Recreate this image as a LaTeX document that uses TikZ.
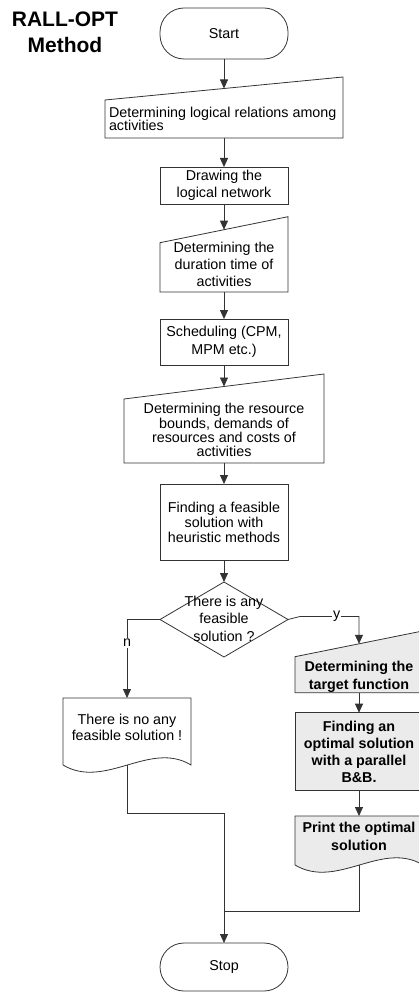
\documentclass[tikz,border=0pt]{standalone}
\usepackage{fontspec}
\setmainfont{Liberation Sans}
\usetikzlibrary{arrows.meta,shapes.geometric,calc}
\newcommand\myfs[1]{\fontsize{14.3}{#1}\selectfont\lineskiplimit=-50pt\relax}
\newcommand\titlefs{\fontsize{21}{26}\selectfont\bfseries\lineskiplimit=-50pt\relax}
\begin{document}
\begin{tikzpicture}[x=1pt,y=-1pt,line width=0.8pt,
  every node/.style={inner sep=0pt,outer sep=0pt,text=black},
  lc/.style={draw=black!80},
  arr/.style={draw=black!80,-{Triangle[width=8pt,length=9pt]}},
  frame/.style={rectangle,draw=none,minimum width=128pt},
  procbox/.style={rectangle,draw=black!80,minimum width=128pt,align=center},
  grey/.style={fill=black!8},
  term/.style={rectangle,draw=black!80,rounded corners=24pt,minimum width=128pt,font=\myfs{17}},
  lbl/.style={fill=white,inner sep=1pt,font=\myfs{17}},
  txt/.style={align=center},
]
\useasboundingbox (0,0) rectangle (419,992);

% title
\node[font=\titlefs,align=center] (title) at (65,32.5) {RALL-OPT\\Method};

% terminals
\node[term,minimum height=51pt] (start) at (224,33.5) {Start};
\node[term,minimum height=48pt] (stop) at (224,967) {Stop};

% manual input 1
\node[frame,minimum width=238pt,minimum height=61pt] (mi1) at (224,107.5) {};
\draw[lc] ([yshift=-23pt]mi1.north west) -- (mi1.north east) -- (mi1.south east) -- (mi1.south west) -- cycle;
\node[anchor=west,align=left,font=\myfs{12.5}] (mi1t) at (109,118.7) {Determining logical relations among\\activities};

% drawing box
\node[procbox,minimum height=37pt,font=\myfs{17}] (drawbox) at (224,185.5) {Drawing the\\logical network};

% manual input 2
\node[frame,minimum width=128pt,minimum height=75.3pt] (mi2) at (224,254.35) {};
\draw[lc] ([yshift=-26pt]mi2.north west) -- (mi2.north east) -- (mi2.south east) -- (mi2.south west) -- cycle;
\node[txt,font=\myfs{17}] (mi2t) at (224,264.8) {Determining the\\duration time of\\activities};

% scheduling
\node[procbox,minimum height=46pt,font=\myfs{18}] (sched) at (224,342) {Scheduling (CPM,\\MPM etc.)};

% manual input 3
\node[frame,minimum width=200pt,minimum height=89pt] (mi3) at (224,418.5) {};
\draw[lc] ([yshift=-25pt]mi3.north west) -- (mi3.north east) -- (mi3.south east) -- (mi3.south west) -- cycle;
\node[txt,font=\myfs{14.3}] (mi3t) at (224,430.3) {Determining the resource\\bounds, demands of\\resources and costs of\\activities};

% feasible box
\node[procbox,minimum height=76pt,font=\myfs{15}] (feas) at (224,522) {Finding a feasible\\solution with\\heuristic methods};

% decision
\node[diamond,draw=black!80,minimum width=128pt,minimum height=75pt] (dec) at (224,619.5) {};
\node[txt,font=\myfs{17.5}] (dect) at (224,618.8) {There is any\\feasible\\solution ?};

% no solution document
\node[frame,minimum height=67pt] (nodoc) at (127,731.5) {};
\draw[lc] (nodoc.south west) -- (nodoc.north west) -- (nodoc.north east) -- (nodoc.south east)
  .. controls +(-41,-25) and +(42,25) .. (nodoc.south west);
\node[txt,font=\myfs{16}] (nodoct) at (127,727) {There is no any\\feasible solution !};

% manual input 4 (grey)
\node[frame,minimum width=128pt,minimum height=61.8pt] (mi4) at (359,661.8) {};
\draw[lc,grey] ([yshift=-25.8pt]mi4.north west) -- (mi4.north east) -- (mi4.south east) -- (mi4.south west) -- cycle;
\node[txt,font=\myfs{18}\bfseries] (mi4t) at (359,676.5) {Determining the\\target function};

% optimal solution box (grey)
\node[procbox,grey,minimum height=78pt,font=\myfs{17.2}\bfseries] (opt) at (359,751.7) {Finding an\\optimal solution\\with a parallel\\B\&B.};

% print document (grey)
\node[frame,minimum height=49pt] (pdoc) at (359,840.5) {};
\draw[lc,grey] (pdoc.south west) -- (pdoc.north west) -- (pdoc.north east) -- (pdoc.south east)
  .. controls +(-41,-25) and +(42,25) .. (pdoc.south west);
\node[txt,font=\myfs{18}\bfseries] (pdoct) at (359,836) {Print the optimal\\solution};

% connectors
\draw[arr] (start.south) -- ([yshift=-11.5pt]mi1.north);
\draw[arr] (mi1.south) -- (drawbox.north);
\draw[arr] (drawbox.south) -- ([yshift=-13pt]mi2.north);
\draw[arr] (mi2.south) -- (sched.north);
\draw[arr] (sched.south) -- ([yshift=-12.5pt]mi3.north);
\draw[arr] (mi3.south) -- (feas.north);
\draw[arr] (feas.south) -- (dec.north);
\draw[arr] (dec.west) -| node[lbl,pos=0.65] (nlab) {n} (nodoc.north);
\draw[arr] (dec.east) -- ++(12,-3) -| node[lbl,pos=0.31] (ylab) {y} ([yshift=-12.9pt]mi4.north);
\draw[arr] (mi4.south) -- (opt.north);
\draw[arr] (opt.south) -- (pdoc.north);
\coordinate (j1) at (224,813);
\coordinate (j2) at (224,911);
\draw[lc] (nodoc.south) |- (j1);
\draw[lc] (pdoc.south) |- (j2);
\draw[arr] (j1) -- (stop.north);
\end{tikzpicture}
\end{document}
